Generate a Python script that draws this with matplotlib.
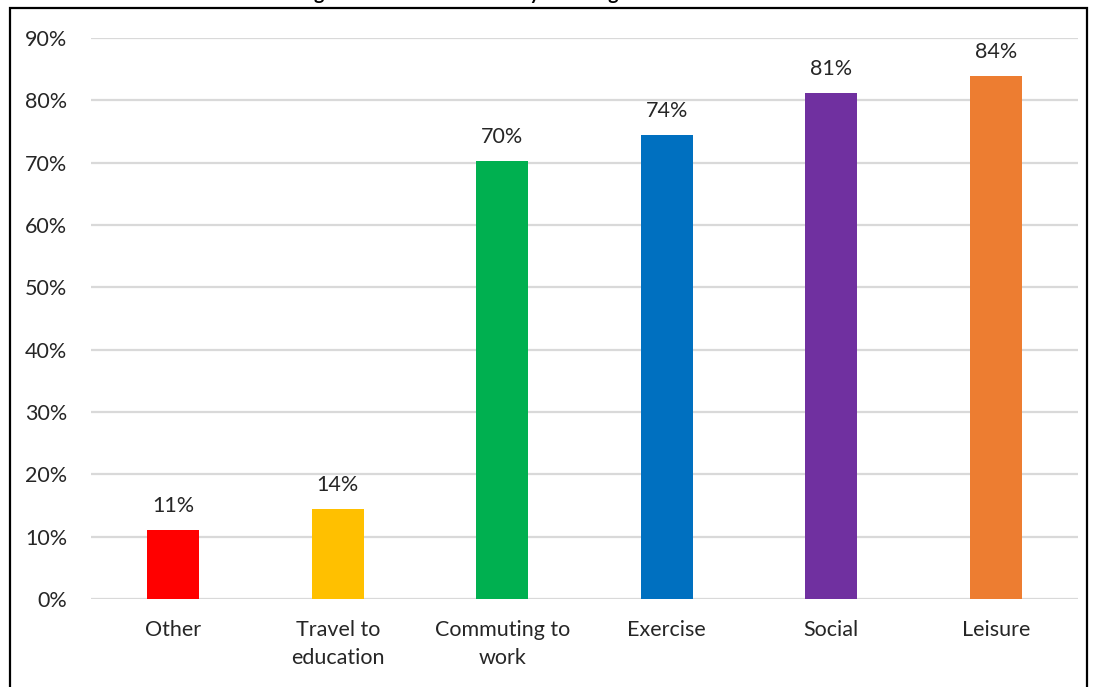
import matplotlib.pyplot as plt
from matplotlib.patches import Rectangle

plt.rcParams['font.family'] = ['Lato', 'DejaVu Sans']

categories = ["Other", "Travel to\neducation", "Commuting to\nwork", "Exercise", "Social", "Leisure"]
values = [11.1, 14.4, 70.3, 74.4, 81.2, 83.9]
colors = ["#FF0000", "#FFC000", "#00B050", "#0070C0", "#7030A0", "#ED7D31"]
yticks = [0, 10, 20, 30, 40, 50, 60, 70, 80, 90]

W, H = 1100, 687
fig = plt.figure(figsize=(W / 100, H / 100), dpi=100)
ax = fig.add_axes([91 / W, 1 - 599 / H, (1078 - 91) / W, (599 - 38) / H])

x = range(len(categories))
bars = ax.bar(x, values, width=0.316, color=colors, zorder=3)
for b, v in zip(bars, values):
    ax.annotate(f"{v:.0f}%", (b.get_x() + b.get_width() / 2, v),
                xytext=(0, 13), textcoords="offset points",
                ha="center", va="baseline", fontsize=15.5, color="#262626")

ax.set_xlim(-0.5, len(categories) - 0.5)
ax.set_ylim(0, 90)
ax.set_yticks(yticks)
ax.set_yticklabels([f"{t}%" for t in yticks])
ax.set_xticks(list(x))
ax.set_xticklabels(categories, linespacing=1.5)
ax.tick_params(axis="both", length=0, labelsize=15.5, colors="#262626")
ax.tick_params(axis="y", pad=17)
ax.tick_params(axis="x", pad=15)
ax.yaxis.grid(True, color="#D9D9D9", linewidth=1.6, zorder=0)
ax.set_axisbelow(True)
for s in ax.spines.values():
    s.set_visible(False)

# outer chart frame, running off the bottom of the image
fig.add_artist(Rectangle((10 / W, -0.05), (1087 - 10) / W, 1.05 - 8 / H,
                         transform=fig.transFigure, fill=False,
                         edgecolor="black", linewidth=1.6))

# chart title sits above the frame, mostly outside the image
fig.text(217 / W, 1.0, "Adults using bikes for each reason by their region",
         ha="left", va="baseline", fontsize=14, fontweight="bold")

fig.savefig("out.png", dpi=100)
